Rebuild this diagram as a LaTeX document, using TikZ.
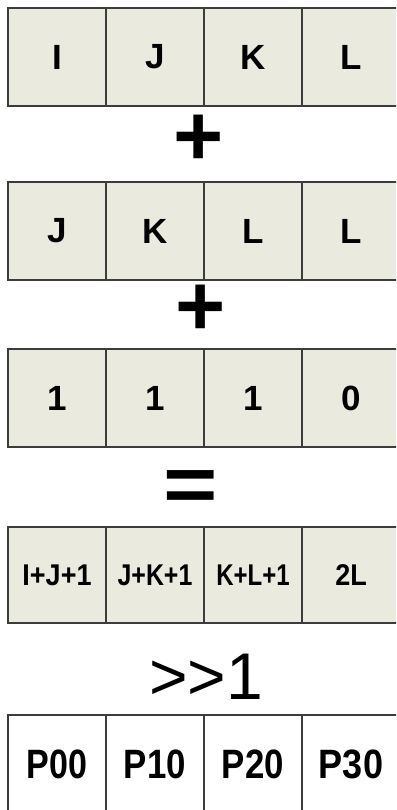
\documentclass[tikz,border=0pt]{standalone}
\usepackage{fontspec}
\setmainfont{Liberation Sans}
\usepackage{graphicx}
\definecolor{cellfill}{RGB}{234,234,222}
\definecolor{cellline}{RGB}{60,60,60}
\begin{document}
\begin{tikzpicture}[x=1pt,y=-1pt,
  cell/.style={draw=cellline, line width=1.4pt, fill=cellfill, minimum width=98pt, minimum height=98pt, inner sep=0pt, font=\fontsize{35}{40}\selectfont\bfseries},
  sumcell/.style={cell, minimum height=96pt, font=\fontsize{30}{34}\selectfont\bfseries},
  outcell/.style={cell, fill=white, font=\fontsize{41}{46}\selectfont\bfseries},
  opsign/.style={inner sep=0pt, font=\fontsize{86}{90}\selectfont\bfseries},
  eqsign/.style={inner sep=0pt, font=\fontsize{96}{100}\selectfont\bfseries},
  shiftlbl/.style={inner sep=0pt, font=\fontsize{66}{70}\selectfont}]
\useasboundingbox (0,0) rectangle (396,810);
\clip (0,0) rectangle (396,810);
\fill[white] (0,0) rectangle (396,810);
% row 1
\node[cell] (a1) at (57,57) {I};
\node[cell] (a2) at (155,57) {J};
\node[cell] (a3) at (253,57) {K};
\node[cell] (a4) at (351,57) {L};
\node[opsign] (plus1) at (198.5,140) {+};
% row 2
\node[cell] (b1) at (57,231) {J};
\node[cell] (b2) at (155,231) {K};
\node[cell] (b3) at (253,231) {L};
\node[cell] (b4) at (351,231) {L};
\node[opsign] (plus2) at (200.5,310.5) {+};
% row 3
\node[cell] (c1) at (57,398) {1};
\node[cell] (c2) at (155,398) {1};
\node[cell] (c3) at (253,398) {1};
\node[cell] (c4) at (351,398) {0};
\node[eqsign] (eq) at (191,491.5) {\scalebox{0.97}[0.82]{=}};
% row 4
\node[sumcell] (d1) at (57,575) {\scalebox{0.9}[1]{I+J+1}};
\node[sumcell] (d2) at (155,575) {\scalebox{0.83}[1]{J+K+1}};
\node[sumcell] (d3) at (253,575) {\scalebox{0.8}[1]{K+L+1}};
\node[sumcell] (d4) at (351,575) {\scalebox{0.9}[1]{2L}};
\node[shiftlbl] (shift) at (206,676.5) {>\kern0pt>\kern0pt1};
% row 5
\node[outcell] (e1) at (57,764) {\scalebox{0.83}[1]{P00}};
\node[outcell] (e2) at (155,764) {\scalebox{0.85}[1]{P10}};
\node[outcell] (e3) at (253,764) {\scalebox{0.85}[1]{P20}};
\node[outcell] (e4) at (351,764) {\scalebox{0.88}[1]{P30}};
\end{tikzpicture}
\end{document}
